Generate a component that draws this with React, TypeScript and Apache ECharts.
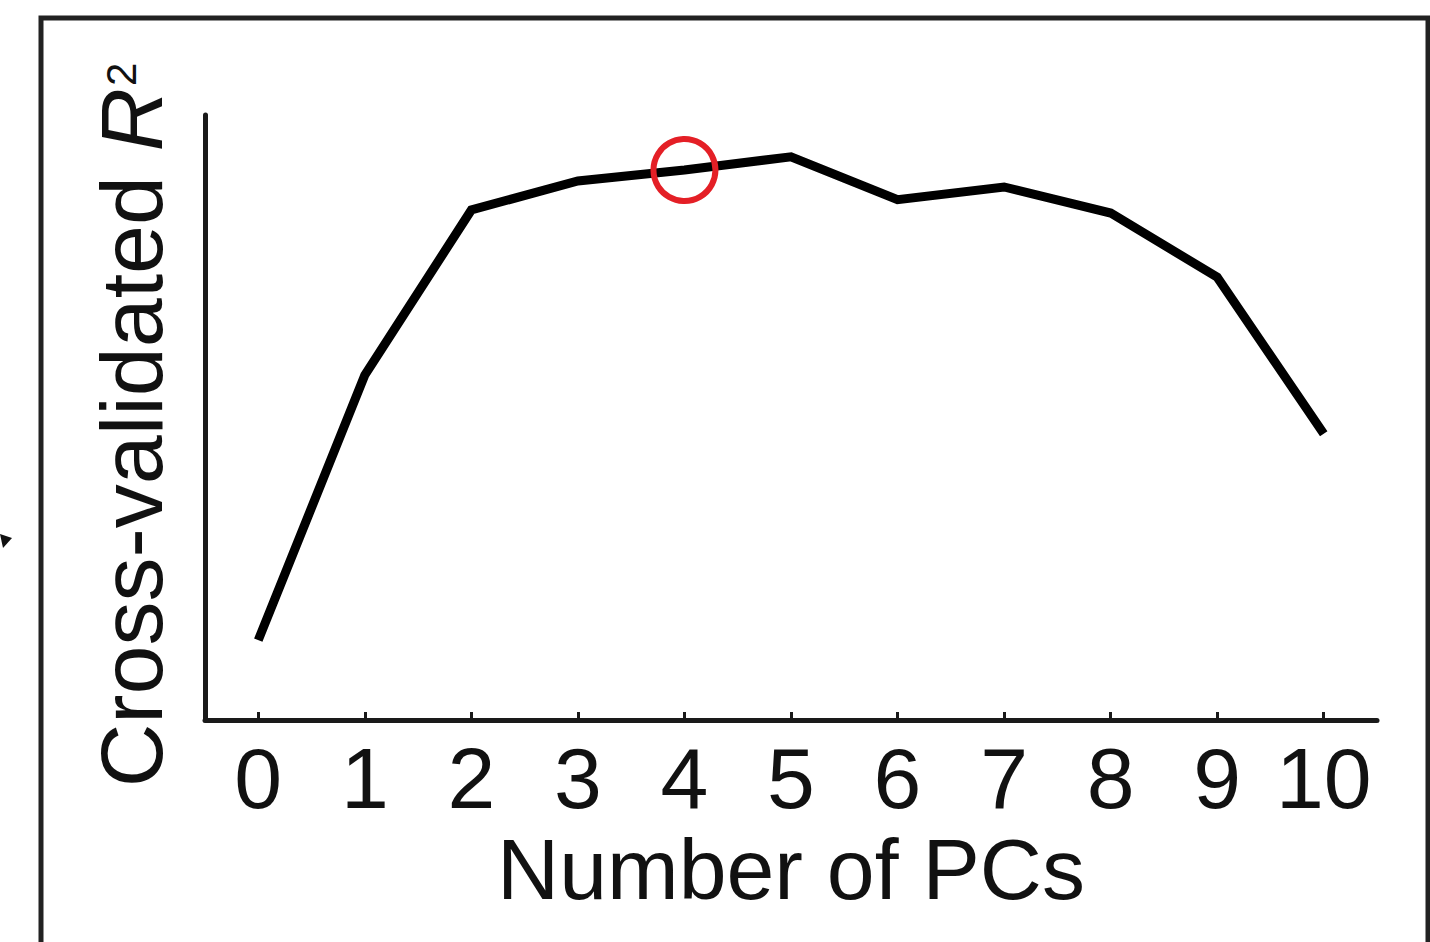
import React, { useEffect, useRef } from "react";
import * as echarts from "echarts";

const categories: string[] = ["0", "1", "2", "3", "4", "5", "6", "7", "8", "9", "10"];
const r2Values: number[] = [0.132, 0.57, 0.843, 0.891, 0.909, 0.931, 0.86, 0.881, 0.838, 0.732, 0.473];
const selectedIndex = 4;
const xTitle = "Number of PCs";
const yTitlePlain = "Cross-validated ";

export default function App() {
  const ref = useRef<HTMLDivElement>(null);
  useEffect(() => {
    if (!ref.current) return;
    const chart = echarts.init(ref.current, undefined, { renderer: "svg" });
    const font = "'Liberation Sans', Arial, Helvetica, sans-serif";
    chart.setOption({
      animation: false,
      backgroundColor: "#ffffff",
      grid: { left: 205, right: 53, top: 115, bottom: 222, containLabel: false },
      xAxis: {
        type: "category",
        data: categories,
        boundaryGap: true,
        name: xTitle,
        nameLocation: "middle",
        nameGap: 105,
        nameTextStyle: { fontSize: 86, color: "#111", fontFamily: font },
        axisLine: { show: true, lineStyle: { color: "#1a1a1a", width: 5 } },
        axisTick: { show: true, inside: true, alignWithLabel: true, length: 8, lineStyle: { color: "#1a1a1a", width: 3 } },
        axisLabel: { fontSize: 86, color: "#111", fontFamily: font, margin: 15, interval: 0 },
        splitLine: { show: false },
      },
      yAxis: {
        type: "value",
        min: 0,
        max: 1,
        axisLine: { show: true, lineStyle: { color: "#1a1a1a", width: 5 } },
        axisTick: { show: false },
        axisLabel: { show: false },
        splitLine: { show: false },
      },
      series: [
        {
          type: "line",
          data: r2Values,
          symbol: "none",
          lineStyle: { color: "#000", width: 9, cap: "butt", join: "miter" },
          z: 2,
        },
        {
          type: "scatter",
          data: [[selectedIndex, r2Values[selectedIndex]]],
          symbol: "circle",
          symbolSize: 62,
          itemStyle: { color: "rgba(0,0,0,0)", borderColor: "#e41f26", borderWidth: 6, opacity: 1 },
          z: 3,
        },
      ],
      graphic: [
        {
          type: "rect",
          shape: { x: 41, y: 18, width: 1387, height: 1000 },
          style: { fill: "none", stroke: "#222", lineWidth: 5 },
          z: 1,
        },
        {
          type: "polygon",
          shape: { points: [[0, 534], [12, 538], [3, 548]] },
          style: { fill: "#111" },
        },
        {
          type: "text",
          x: 131,
          y: 425,
          rotation: Math.PI / 2,
          style: {
            text: "{n|" + yTitlePlain + "}{i|R}{s|2}",
            align: "center",
            verticalAlign: "middle",
            rich: {
              n: { fontSize: 88, fontFamily: font, fill: "#111" },
              i: { fontSize: 88, fontFamily: font, fontStyle: "italic", fill: "#111" },
              s: { fontSize: 42, fontFamily: font, fill: "#111", verticalAlign: "top", padding: [13, 0, 0, 2] },
            },
          },
        },
      ],
    });
    return () => chart.dispose();
  }, []);
  return (
    <div
      ref={ref}
      style={{ position: "absolute", left: 0, top: 0, width: 1430, height: 942, background: "#fff" }}
    />
  );
}
